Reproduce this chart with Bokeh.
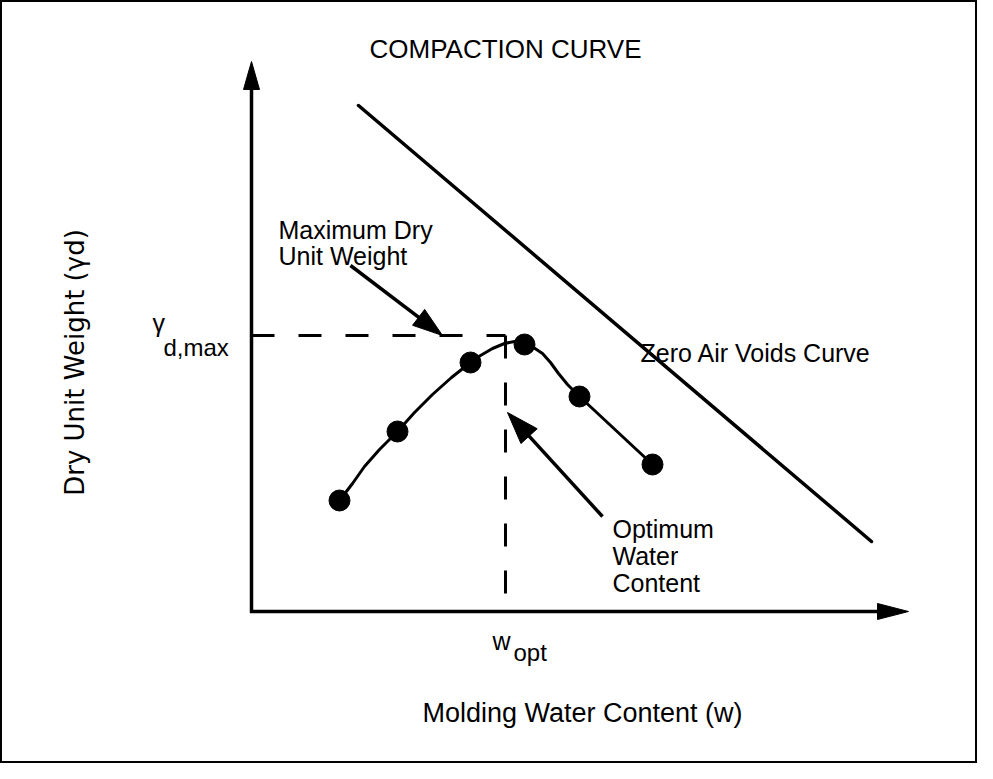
import math
from bokeh.plotting import figure
from bokeh.models import Range1d, Label
from bokeh.embed import file_html
from bokeh.resources import INLINE

# ---------------- data (arbitrary units: 1 unit = 50 px on screen) ----------------
# compaction test points
water_content = [1.76, 2.92, 4.38, 5.46, 6.56, 8.02]
dry_unit_weight = [2.22, 3.60, 4.98, 5.34, 4.30, 2.94]

# smooth compaction curve traced through the points
curve_w = [1.76, 2.02, 2.26, 2.56, 2.92, 3.26, 3.62, 4.00, 4.38, 4.58, 4.82, 5.06,
           5.26, 5.46, 5.64, 5.82, 5.98, 6.14, 6.32, 6.56, 8.02]
curve_gd = [2.22, 2.56, 2.90, 3.24, 3.60, 3.98, 4.34, 4.68, 4.98, 5.12, 5.26, 5.36,
            5.40, 5.34, 5.28, 5.16, 4.98, 4.76, 4.54, 4.30, 2.94]

# zero air voids line
zav_w = [2.14, 12.40]
zav_gd = [10.12, 1.40]

# optimum values
w_opt = 5.08
gd_max = 5.52

# axis extents
x_axis_end = 13.14
y_axis_end = 11.0

# annotation arrows (start -> tip)
maxdry_arrow = (1.98, 6.92, 3.82, 5.52)
optimum_arrow = (7.02, 1.90, 5.12, 3.98)

PX = 50.0  # pixels per unit

p = figure(width=977, height=763,
           x_range=Range1d(-5.02, 14.52), y_range=Range1d(-3.04, 12.22),
           x_axis_type=None, y_axis_type=None,
           toolbar_location=None, output_backend="svg", min_border=0)
p.outline_line_color = "black"
p.outline_line_width = 3
p.background_fill_color = "white"
p.border_fill_color = "white"


def head(fx, fy, tx, ty, length, width):
    dx, dy = tx - fx, ty - fy
    d = math.hypot(dx, dy)
    ux, uy = dx / d, dy / d
    L, W = length / PX, width / PX
    bx, by = tx - ux * L, ty - uy * L
    px_, py_ = -uy * W / 2, ux * W / 2
    return [tx, bx + px_, bx - px_], [ty, by + py_, by - py_], (bx + ux * L * 0.2, by + uy * L * 0.2)


heads_x, heads_y = [], []


def arrow(fx, fy, tx, ty, length, width, lw=3.5):
    hx, hy, (ex, ey) = head(fx, fy, tx, ty, length, width)
    heads_x.append(hx)
    heads_y.append(hy)
    p.line([fx, ex], [fy, ey], line_color="black", line_width=lw)


# axes with arrows
arrow(0, -0.03, 0, y_axis_end, 28, 16)
arrow(-0.03, 0, x_axis_end, 0, 31, 16)

# zero air voids line
p.line(zav_w, zav_gd, line_color="black", line_width=3.5, line_cap="round")

# dashed guide lines
p.line([0, w_opt], [gd_max, gd_max], line_color="black", line_width=3, line_dash="23 24")
p.line([w_opt, w_opt], [gd_max, 0], line_color="black", line_width=3, line_dash="23 24")

# compaction curve and points
p.line(curve_w, curve_gd, line_color="black", line_width=3, line_join="round")
p.scatter(water_content, dry_unit_weight, size=21, marker="circle",
          fill_color="black", line_color="black")

# annotation arrows
arrow(*maxdry_arrow, 30, 20)
arrow(*optimum_arrow, 32, 22)

p.patches(heads_x, heads_y, fill_color="black", line_color="black", line_width=1)

FONT = "Liberation Sans"


def lab(x, y, text, size, align="left", font=FONT, angle=0.0):
    p.add_layout(Label(x=x, y=y, text=text, text_font=font, text_font_size=size,
                       text_align=align, text_baseline="middle", angle=angle,
                       text_color="black"))


lab(5.08, 11.26, "COMPACTION CURVE", "26px", align="center")
lab(6.62, -2.02, "Molding Water Content (w)", "27px", align="center")
lab(-3.54, 4.98, "Dry Unit Weight (γd)", "26px", align="center",
    font="DejaVu Sans", angle=math.pi / 2)

lab(-1.98, 5.78, "γ", "25px")
lab(-1.76, 5.28, "d,max", "24px")
lab(4.82, -0.58, "w", "25px")
lab(5.24, -0.82, "opt", "24px")

lab(0.54, 7.64, "Maximum Dry", "25px")
lab(0.54, 7.12, "Unit Weight", "25px")
lab(7.78, 5.18, "Zero Air Voids Curve", "25px")
lab(7.22, 1.66, "Optimum", "25px")
lab(7.22, 1.12, "Water", "25px")
lab(7.22, 0.58, "Content", "25px")

open("out.html", "w").write(file_html(p, INLINE))
